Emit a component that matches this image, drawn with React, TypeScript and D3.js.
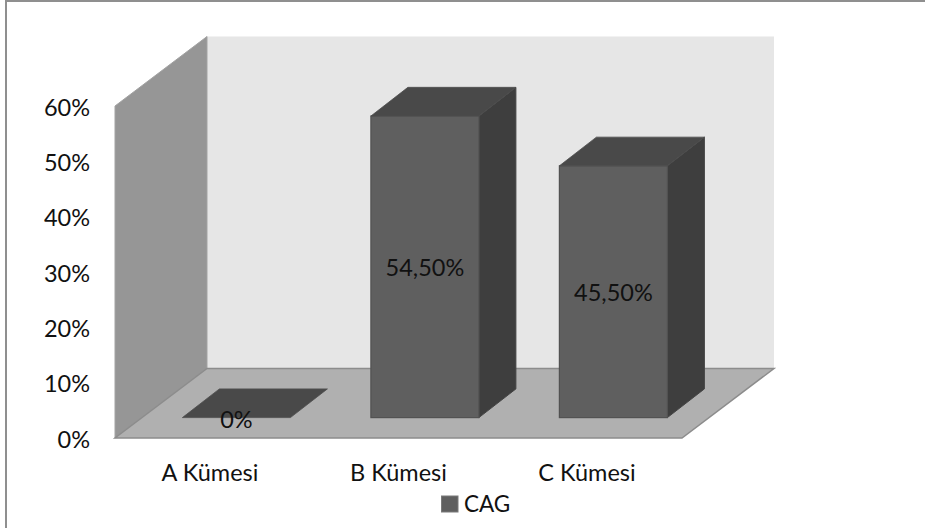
import React from "react";
import * as d3 from "d3";

const categories = ["A Kümesi", "B Kümesi", "C Kümesi"];
const values = [0, 54.5, 45.5];
const valueLabels = ["0%", "54,50%", "45,50%"];
const ticks = [0, 10, 20, 30, 40, 50, 60];
const seriesName = "CAG";

const FONT = "Lato, 'Open Sans', sans-serif";
const FONT_SIZE = 23.5;
const depthX = 92;
const depthY = 69.5;
const barDepthX = 37;
const barDepthY = 28.7;
const barPlaneX = 26.4;
const barPlaneY = 20.4;

const y = d3.scaleLinear().domain([0, 60]).range([438, 106]);
const x = d3.scaleBand<string>().domain(categories).range([115, 682]).paddingInner(0.427).paddingOuter(0.2175);

const poly = (pts: [number, number][]) => {
  const line = d3.line();
  return line(pts) + "Z";
};

export default function App() {
  const y0 = y(0);
  const y60 = y(60);
  const xL = x.range()[0];
  const xR = x.range()[1];
  return (
    <svg width={925} height={528} style={{ position: "absolute", left: 0, top: 0, background: "#fff" }}>
      {/* frame: only the top and left edges are visible */}
      <line x1={6} y1={1} x2={925} y2={1} stroke="#8f8f8f" strokeWidth={2} />
      <line x1={6} y1={0} x2={6} y2={528} stroke="#8f8f8f" strokeWidth={2} />
      {/* chart walls and floor */}
      <path d={poly([[xL + depthX, y60 - depthY], [xR + depthX, y60 - depthY], [xR + depthX, y0 - depthY], [xL + depthX, y0 - depthY]])} fill="#e6e6e6" />
      <path d={poly([[xL, y60], [xL + depthX, y60 - depthY], [xL + depthX, y0 - depthY], [xL, y0]])} fill="#969696" stroke="#a3a3a3" strokeWidth={1} />
      <path d={poly([[xL, y0], [xR, y0], [xR + depthX, y0 - depthY], [xL + depthX, y0 - depthY]])} fill="#b0b0b0" stroke="#8c8c8c" strokeWidth={1.5} />
      {/* 3D columns */}
      {categories.map((c, i) => {
        const left = (x(c) as number) + barPlaneX;
        const right = left + x.bandwidth();
        const base = y0 - barPlaneY;
        const top = base - (y0 - y(values[i]));
        const dx = barDepthX;
        const dy = barDepthY;
        return (
          <g key={c}>
            {values[i] > 0 && (
              <>
                <path d={poly([[right, base], [right + dx, base - dy], [right + dx, top - dy], [right, top]])} fill="#3e3e3e" stroke="#454545" strokeWidth={1} />
                <rect x={left} y={top} width={x.bandwidth()} height={base - top} fill="#5f5f5f" stroke="#525252" strokeWidth={1.2} />
              </>
            )}
            <path d={poly([[left, top], [left + dx, top - dy], [right + dx, top - dy], [right, top]])} fill="#494949" stroke="#4e4e4e" strokeWidth={0.8} />
            <text x={(left + right) / 2} y={i === 0 ? 427.5 : (top + base) / 2 + 9} textAnchor="middle" fontFamily={FONT} fontSize={FONT_SIZE} fill="#111">
              {valueLabels[i]}
            </text>
            <text x={(x(c) as number) + x.bandwidth() / 2} y={481} textAnchor="middle" fontFamily={FONT} fontSize={FONT_SIZE} fill="#111">
              {c}
            </text>
          </g>
        );
      })}
      {/* value axis labels */}
      {ticks.map((t) => (
        <text key={t} x={90} y={y(t) + 9.5} textAnchor="end" fontFamily={FONT} fontSize={FONT_SIZE} fill="#111">
          {t}%
        </text>
      ))}
      {/* legend */}
      <rect x={441.5} y={496} width={16.5} height={16} fill="#5f5f5f" stroke="#7a7a7a" strokeWidth={1} />
      <text x={464} y={512} fontFamily={FONT} fontSize={22.5} fill="#111">
        {seriesName}
      </text>
    </svg>
  );
}
